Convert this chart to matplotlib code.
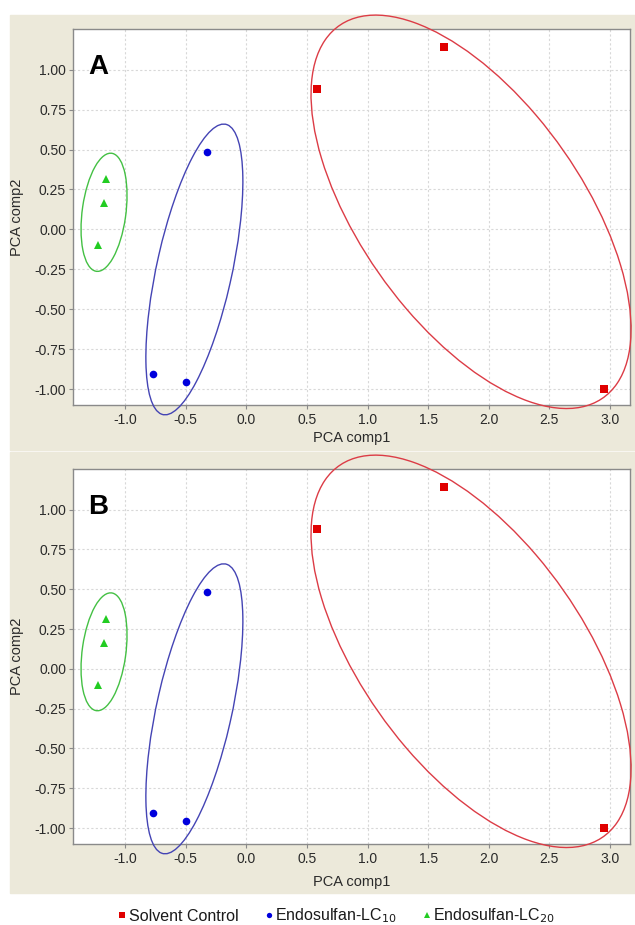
import numpy as np
import matplotlib
matplotlib.use("Agg")
import matplotlib.pyplot as plt
from matplotlib.patches import Ellipse, Rectangle

plt.rcParams['font.family'] = ['Liberation Sans', 'DejaVu Sans']
plt.rcParams['axes.unicode_minus'] = False

# ---- data ----
groups = ["Solvent Control", "Endosulfan-LC$_{10}$", "Endosulfan-LC$_{20}$"]
solvent_x = [0.58, 1.63, 2.95]
solvent_y = [0.88, 1.145, -1.00]
lc10_x = [-0.325, -0.77, -0.495]
lc10_y = [0.483, -0.905, -0.955]
lc20_x = [-1.157, -1.173, -1.223]
lc20_y = [0.313, 0.163, -0.10]

# confidence ellipses: centre (x, y) and covariance (sxx, syy, sxy), in data units
solvent_ell = [1.854, 0.110, 1.742, 1.518, -0.97]
lc10_ell = [-0.428, -0.251, 0.160, 0.829, 0.22]
lc20_ell = [-1.173, 0.107, 0.036, 0.137, 0.020]

x_ticks = [-1.0, -0.5, 0.0, 0.5, 1.0, 1.5, 2.0, 2.5, 3.0]
y_ticks = [-1.00, -0.75, -0.50, -0.25, 0.00, 0.25, 0.50, 0.75, 1.00]
panel_labels = ["A", "B"]

series = [
    (solvent_x, solvent_y, solvent_ell, 's', '#e00000', '#dc3c46', 5.5),
    (lc10_x, lc10_y, lc10_ell, 'o', '#0000dd', '#4444b4', 5.5),
    (lc20_x, lc20_y, lc20_ell, '^', '#22cc22', '#44c044', 5.8),
]

W, H = 635, 925
fig = plt.figure(figsize=(W / 100, H / 100), dpi=100)
beige = '#ece9da'
# panel backgrounds
fig.patches.append(Rectangle((10 / W, 1 - 450 / H), 625 / W, 435 / H,
                             transform=fig.transFigure, color=beige, zorder=-10))
fig.patches.append(Rectangle((10 / W, 1 - 893 / H), 625 / W, 441 / H,
                             transform=fig.transFigure, color=beige, zorder=-10))

axes_px = [(73, 29, 630, 405), (73, 469, 630, 844)]
xlabel_y = [-0.069, -0.083]


def cov_ellipse(p, color):
    cx, cy, sxx, syy, sxy = p
    cov = np.array([[sxx, sxy], [sxy, syy]])
    vals, vecs = np.linalg.eigh(cov)
    order = vals.argsort()[::-1]
    vals, vecs = vals[order], vecs[:, order]
    ang = np.degrees(np.arctan2(vecs[1, 0], vecs[0, 0]))
    return Ellipse((cx, cy), 2 * np.sqrt(vals[0]), 2 * np.sqrt(vals[1]), angle=ang,
                   fill=False, edgecolor=color, lw=1.0, clip_on=False, zorder=3)


handles = []
for i, (l, t, r, b) in enumerate(axes_px):
    ax = fig.add_axes([l / W, 1 - b / H, (r - l) / W, (b - t) / H])
    ax.set_facecolor('white')
    ax.set_xlim(-1.429, 3.165)
    ax.set_ylim(-1.10, 1.255)
    ax.set_xticks(x_ticks)
    ax.set_xticklabels([f"{v:.1f}" for v in x_ticks])
    ax.set_yticks(y_ticks)
    ax.set_yticklabels([f"{v:.2f}" for v in y_ticks])
    ax.grid(True, color='#d8d8d8', linestyle=(0, (2, 2)), linewidth=0.8)
    ax.set_axisbelow(True)
    for s in ax.spines.values():
        s.set_color('#8a8a8a')
        s.set_linewidth(1.0)
    ax.tick_params(direction='out', length=3, width=0.8, color='#8a8a8a',
                   labelcolor='#2a2a2a', labelsize=10)
    ax.tick_params(axis='x', pad=3)
    ax.tick_params(axis='y', pad=2)
    ax.set_xlabel("PCA comp1", fontsize=10.5, color='#2a2a2a')
    ax.set_ylabel("PCA comp2", fontsize=10.5, color='#2a2a2a')
    ax.xaxis.set_label_coords(0.5, xlabel_y[i])
    ax.yaxis.set_label_coords(-0.088, 0.5)
    hs = []
    for (xs, ys, ell, mk, mc, ec, ms), name in zip(series, groups):
        h, = ax.plot(xs, ys, linestyle='none', marker=mk, color=mc, ms=ms,
                     markeredgewidth=0, label=name, zorder=4)
        hs.append(h)
        ax.add_patch(cov_ellipse(ell, ec))
    handles = hs
    ax.text(0.045, 0.90, panel_labels[i], transform=ax.transAxes, fontsize=20,
            fontweight='bold', color='black', ha='center', va='center')

fig.legend(handles, groups, loc='center', bbox_to_anchor=(336 / W, 1 - 916 / H),
           ncol=3, frameon=False, fontsize=11.5, markerscale=0.7,
           handlelength=0.6, handletextpad=0.1, columnspacing=1.6,
           labelcolor='#1a1a1a')

fig.savefig("out.png", dpi=100)
